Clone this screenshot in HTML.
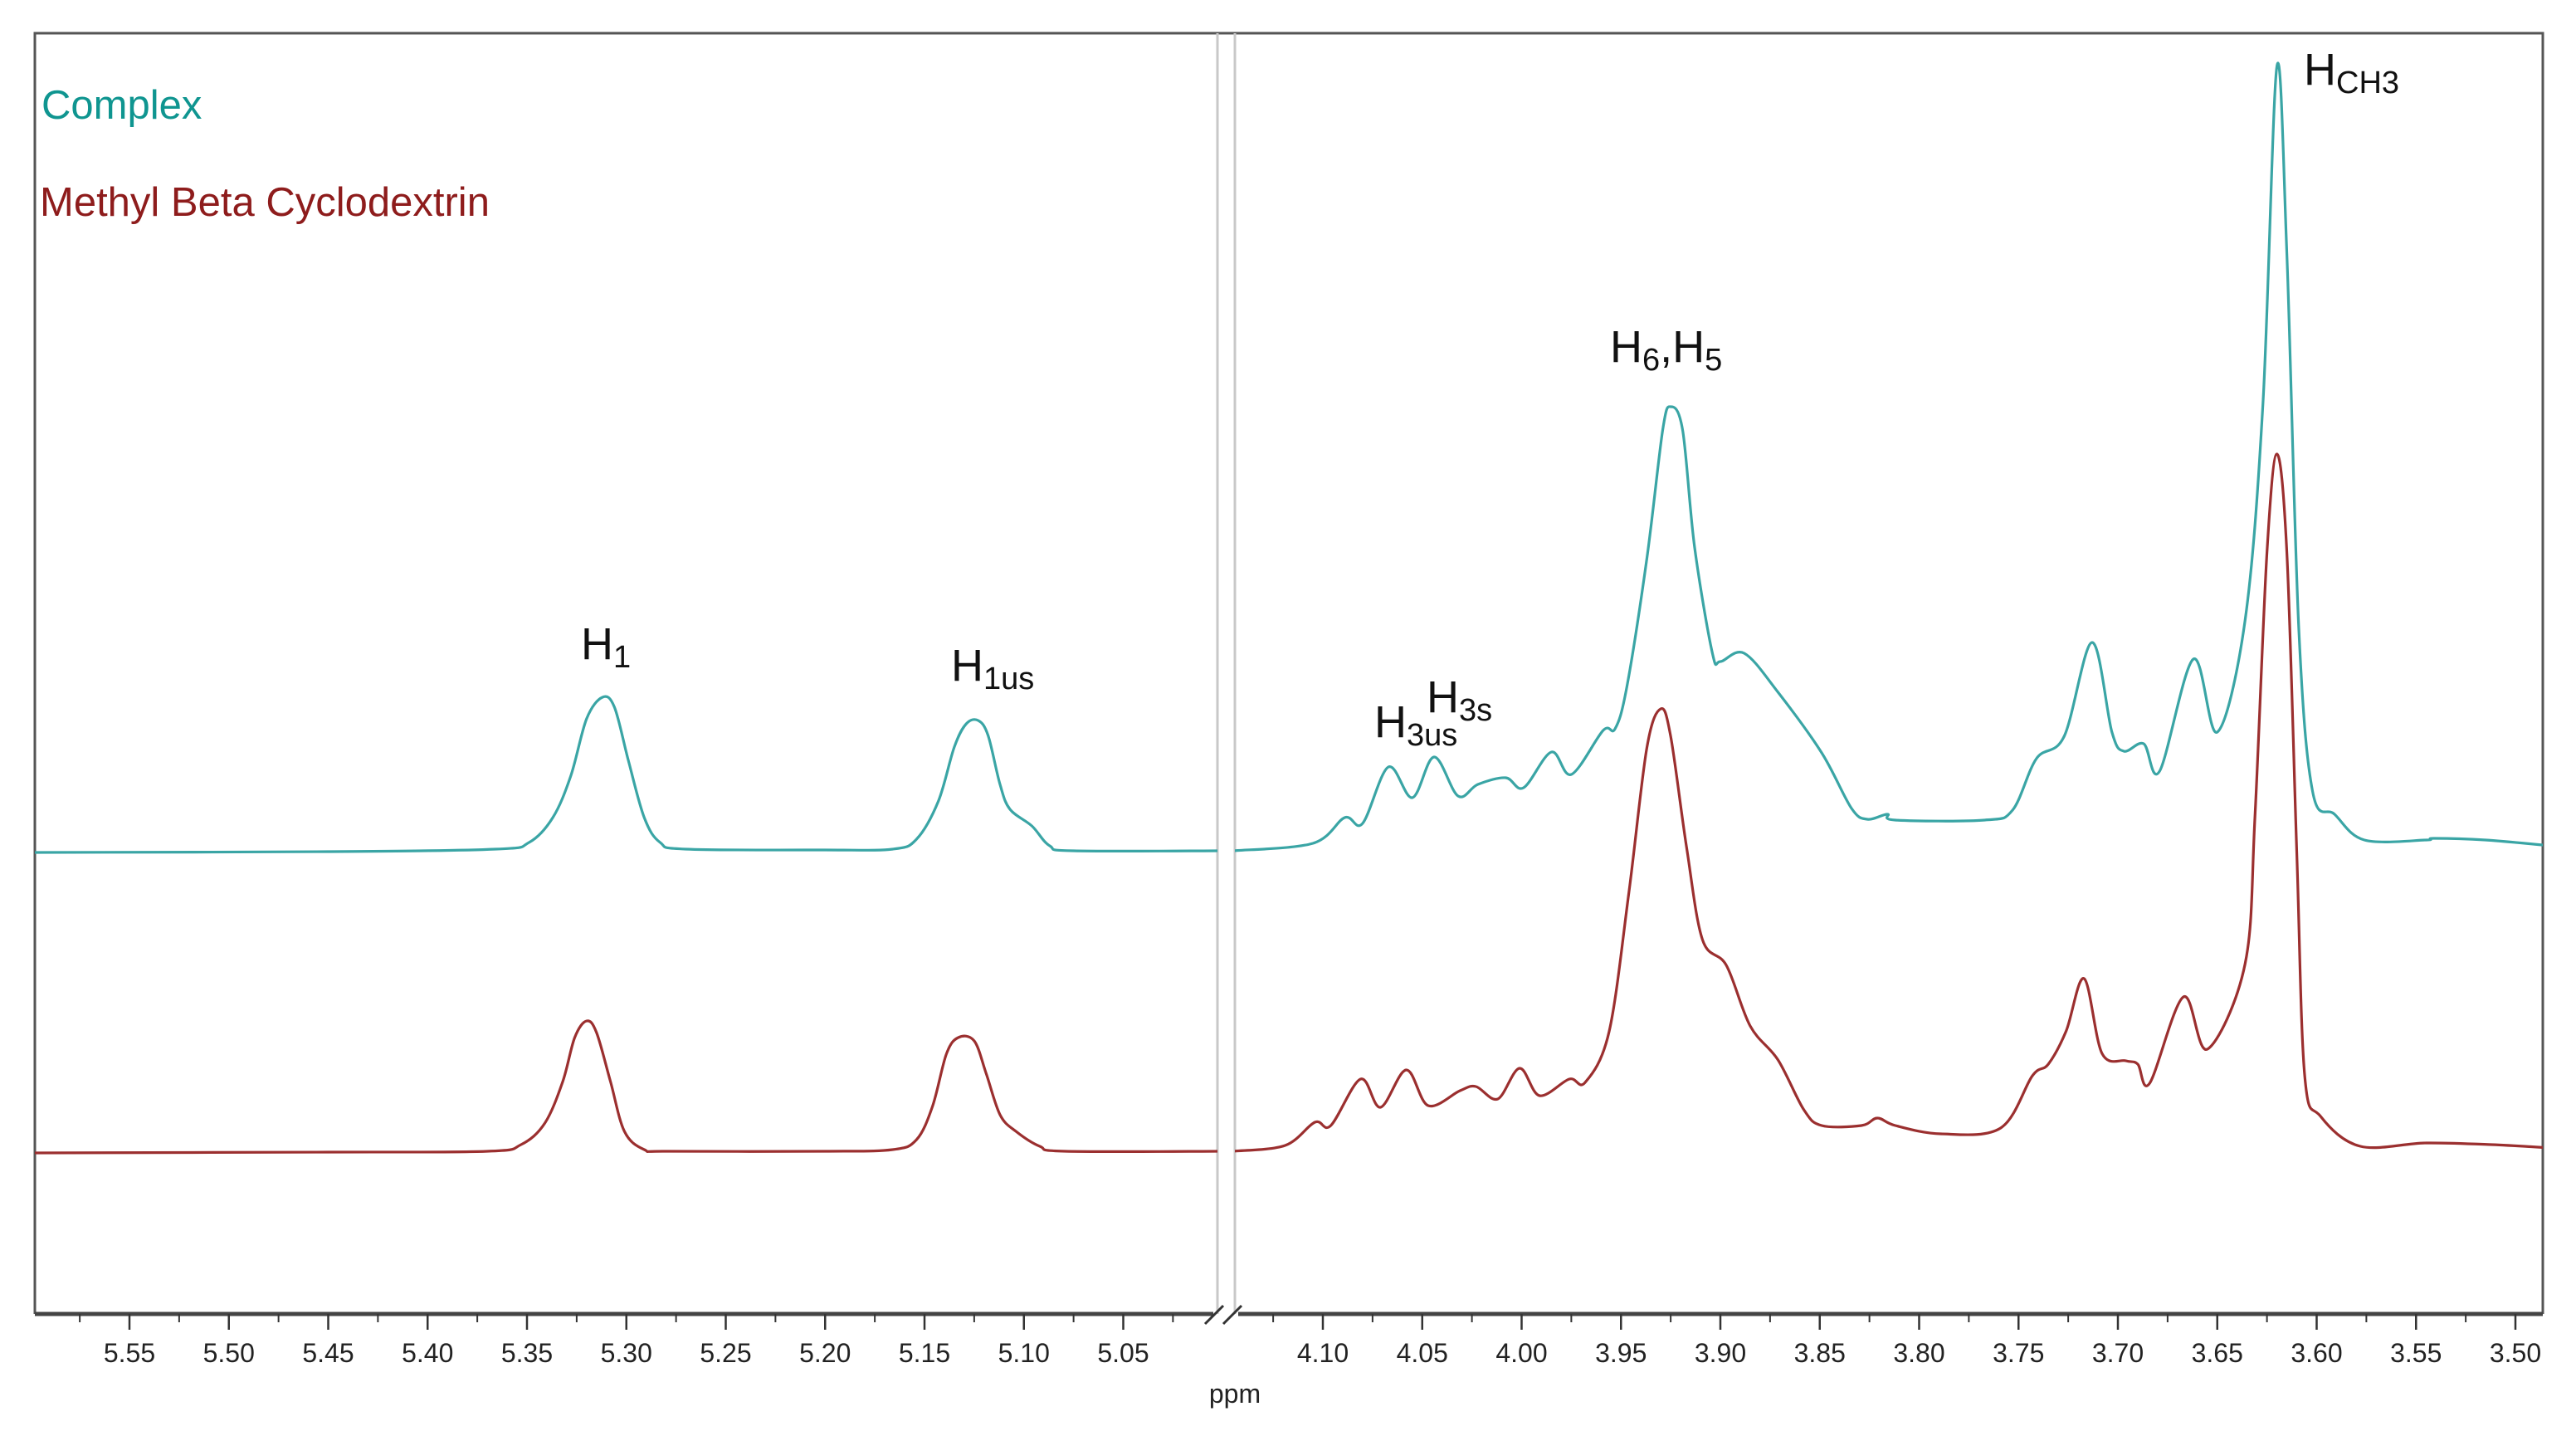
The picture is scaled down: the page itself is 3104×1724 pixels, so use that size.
<!DOCTYPE html>
<html><head><meta charset="utf-8"><style>
html,body{margin:0;padding:0;background:#fff;}
svg{display:block;font-family:"Liberation Sans",sans-serif;}
</style></head><body>
<svg width="3104" height="1724" viewBox="0 0 3104 1724" xmlns="http://www.w3.org/2000/svg">
<defs>
<clipPath id="clipL"><rect x="42" y="40" width="1425" height="1543"/></clipPath>
<clipPath id="clipR"><rect x="1488" y="40" width="1576" height="1543"/></clipPath>
</defs>
<rect x="0" y="0" width="3104" height="1724" fill="#fff"/>
<path d="M42,1583 L42,40 L3064,40 L3064,1583" fill="none" stroke="#555" stroke-width="3"/>
<line x1="1467" y1="40" x2="1467" y2="1583" stroke="#c8c8c8" stroke-width="3"/>
<line x1="1488" y1="40" x2="1488" y2="1583" stroke="#c8c8c8" stroke-width="3"/>
<g id="axes"></g>
<g id="series"></g>
<text x="50" y="143" font-size="49" fill="#0f9590">Complex</text>
<text x="48" y="260" font-size="49" fill="#8e1c1c">Methyl Beta Cyclodextrin</text>
<text x="700" y="794" font-size="54" fill="#111">H<tspan font-size="38" dy="10">1</tspan></text>
<text x="1146" y="820" font-size="54" fill="#111">H<tspan font-size="38" dy="10">1us</tspan></text>
<text x="1656" y="888" font-size="54" fill="#111">H<tspan font-size="38" dy="10">3us</tspan></text>
<text x="1719" y="858" font-size="54" fill="#111">H<tspan font-size="38" dy="10">3s</tspan></text>
<text x="1940" y="436" font-size="54" fill="#111">H<tspan font-size="38" dy="10">6</tspan><tspan dy="-10">,H</tspan><tspan font-size="38" dy="10">5</tspan></text>
<text x="2776" y="102" font-size="54" fill="#111">H<tspan font-size="38" dy="10">CH3</tspan></text>
<text x="1488" y="1690" font-size="32" text-anchor="middle" fill="#222">ppm</text>
</svg>
<script>
// axis ticks
const leftTicks = [5.55,5.50,5.45,5.40,5.35,5.30,5.25,5.20,5.15,5.10,5.05];
const rightTicks = [4.10,4.05,4.00,3.95,3.90,3.85,3.80,3.75,3.70,3.65,3.60,3.55,3.50];
// Complex (teal) spectrum: ppm and intensity
const complexLeftPpm = [5.598,5.45,5.366,5.349,5.337,5.328,5.320,5.312,5.306,5.299,5.291,5.283,5.270,5.20,5.166,5.154,5.143,5.135,5.129,5.123,5.118,5.112,5.107,5.096,5.087,5.075,5.0];
const complexLeftInt = [-2,-1,2,10,40,90,159,185,173,109,40,10,2,1,2,14,60,125,153,157,139,80,50,30,6,0,0];
const complexRightPpm = [4.145,4.105,4.089,4.080,4.067,4.055,4.044,4.032,4.022,4.008,3.999,3.985,3.975,3.959,3.953,3.947,3.937,3.929,3.925,3.919,3.913,3.904,3.900,3.888,3.871,3.849,3.834,3.826,3.816,3.812,3.767,3.753,3.741,3.727,3.713,3.703,3.697,3.687,3.679,3.662,3.650,3.636,3.627,3.620,3.615,3.609,3.602,3.591,3.576,3.545,3.541,3.515,3.482];
const complexRightInt = [0,9,40,33,101,64,113,66,80,88,76,119,92,145,147,198,352,507,535,507,366,238,228,238,191,118,51,38,44,37,37,49,111,138,251,143,120,129,96,231,143,278,539,945,719,269,71,44,13,13,15,13,6];
// Methyl Beta Cyclodextrin (red) spectrum
const mbcdLeftPpm = [5.598,5.45,5.370,5.353,5.341,5.332,5.326,5.320,5.315,5.308,5.301,5.291,5.279,5.20,5.166,5.154,5.146,5.139,5.133,5.125,5.119,5.112,5.104,5.092,5.079,5.0];
const mbcdLeftInt = [-2,-1,0,8,34,84,137,157,143,84,24,2,0,0,2,14,54,117,137,133,94,44,24,6,0,0];
const mbcdRightPpm = [4.145,4.119,4.104,4.096,4.081,4.071,4.058,4.047,4.031,4.023,4.012,4.001,3.991,3.976,3.968,3.956,3.946,3.937,3.930,3.925,3.917,3.909,3.897,3.885,3.871,3.858,3.849,3.829,3.821,3.812,3.789,3.759,3.743,3.735,3.726,3.717,3.708,3.696,3.690,3.684,3.667,3.655,3.636,3.631,3.625,3.620,3.615,3.610,3.606,3.598,3.578,3.545,3.512,3.482];
const mbcdRightInt = [0,7,35,31,87,53,98,55,73,78,63,100,67,87,83,144,312,486,533,500,366,255,224,151,110,50,31,31,40,31,21,28,91,105,145,208,118,109,105,82,186,123,226,406,721,840,721,361,91,42,6,10,8,4];

const NS='http://www.w3.org/2000/svg';
const SCALE=2395;
function xLeft(p){return 156+(5.55-p)*SCALE;}
function xRight(p){return 1594+(4.10-p)*SCALE;}
function yComplex(v){return 1025-v;}
function yMbcd(v){return 1387-v;}
function smoothPath(xs,ys){
  let d='M'+xs[0].toFixed(1)+','+ys[0].toFixed(1);
  for(let i=0;i<xs.length-1;i++){
    const x0=xs[Math.max(i-1,0)],y0=ys[Math.max(i-1,0)];
    const x1=xs[i],y1=ys[i],x2=xs[i+1],y2=ys[i+1];
    const x3=xs[Math.min(i+2,xs.length-1)],y3=ys[Math.min(i+2,xs.length-1)];
    const c1x=x1+(x2-x0)/6,c1y=y1+(y2-y0)/6,c2x=x2-(x3-x1)/6,c2y=y2-(y3-y1)/6;
    d+=' C'+c1x.toFixed(1)+','+c1y.toFixed(1)+' '+c2x.toFixed(1)+','+c2y.toFixed(1)+' '+x2.toFixed(1)+','+y2.toFixed(1);
  }
  return d;
}
const series=document.getElementById('series');
function addSeries(name,ppm,vals,xf,yf,clip,color){
  const p=document.createElementNS(NS,'path');
  p.setAttribute('d',smoothPath(ppm.map(xf),vals.map(yf)));
  p.setAttribute('fill','none');p.setAttribute('stroke',color);p.setAttribute('stroke-width','3.2');
  p.setAttribute('stroke-linejoin','round');p.setAttribute('clip-path','url(#'+clip+')');
  
  
  series.appendChild(p);
}
addSeries('complex-spectrum-left',complexLeftPpm,complexLeftInt,xLeft,yComplex,'clipL','#3aa5a5');
addSeries('complex-spectrum-right',complexRightPpm,complexRightInt,xRight,yComplex,'clipR','#3aa5a5');
addSeries('mbcd-spectrum-left',mbcdLeftPpm,mbcdLeftInt,xLeft,yMbcd,'clipL','#9b2f2f');
addSeries('mbcd-spectrum-right',mbcdRightPpm,mbcdRightInt,xRight,yMbcd,'clipR','#9b2f2f');

const axes=document.getElementById('axes');
function line(x1,y1,x2,y2,w,c,name){
  const l=document.createElementNS(NS,'line');
  l.setAttribute('x1',x1);l.setAttribute('y1',y1);l.setAttribute('x2',x2);l.setAttribute('y2',y2);
  l.setAttribute('stroke',c);l.setAttribute('stroke-width',w);
  
  
  axes.appendChild(l);
}
line(42,1583,1462,1583,5,'#444','x-axis-line-left');
line(1492,1583,3064,1583,5,'#444','x-axis-line-right');
line(1452,1595,1474,1573,3,'#333','axis-break-slash');
line(1474,1595,1496,1573,3,'#333','axis-break-slash');
function ticks(list,xf,lo,hi){
  list.forEach(t=>{
    const x=xf(t);
    line(x,1583,x,1602,2.5,'#333','major-tick');
    const tx=document.createElementNS(NS,'text');
    tx.setAttribute('x',x);tx.setAttribute('y',1641);tx.setAttribute('font-size','32');
    tx.setAttribute('text-anchor','middle');tx.setAttribute('fill','#222');
    tx.textContent=t.toFixed(2);
    
    
    axes.appendChild(tx);
  });
  for(let k=0;k<40;k++){
    const m=list[0]+0.025-k*0.05;
    const x=xf(m);
    if(x>lo&&x<hi) line(x,1583,x,1593,2,'#333','minor-tick');
  }
}
ticks(leftTicks,xLeft,44,1460);
ticks(rightTicks,xRight,1495,3062);
</script>
</body></html>
